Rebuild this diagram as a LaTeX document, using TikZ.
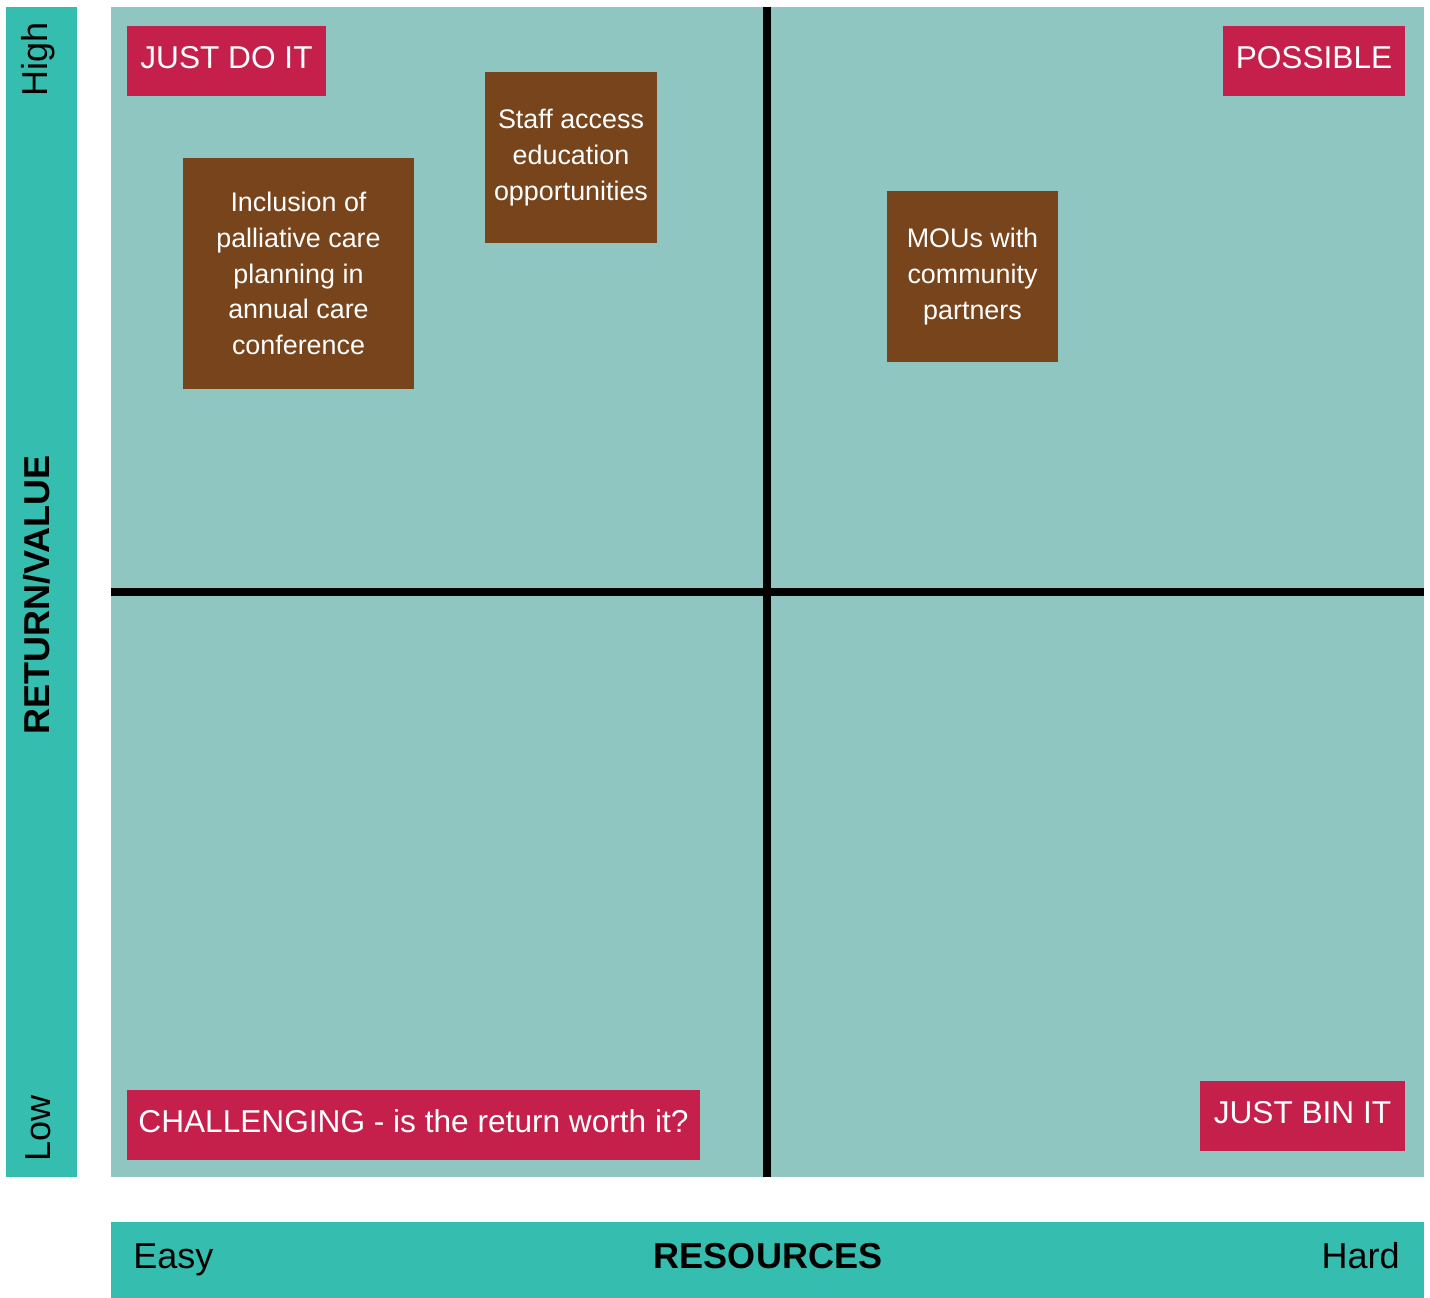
\documentclass[tikz,border=0pt]{standalone}
\usepackage{fontspec}
\setmainfont{Liberation Sans}
\usetikzlibrary{positioning}
\definecolor{barteal}{RGB}{53,190,175}
\definecolor{gridteal}{RGB}{144,198,193}
\definecolor{tagred}{RGB}{197,31,75}
\definecolor{notebrown}{RGB}{120,68,28}

\begin{document}
\begin{tikzpicture}[x=0.02cm,y=-0.02cm,
  tag/.style={fill=tagred,text=white,font=\fontsize{18}{22}\selectfont,inner sep=0pt,
    text height=0.84cm,text depth=0.56cm},
  note/.style={fill=notebrown,text=white,align=center,font=\fontsize{15.3}{20.4}\selectfont,inner sep=0pt},
  axlab/.style={font=\fontsize{20.5}{24}\selectfont,inner sep=0pt},
  divide/.style={line width=4pt}]
\useasboundingbox (0,0) rectangle (1430,1298);
% bars and field
\fill[barteal] (6,7) rectangle (77,1177);
\fill[gridteal] (111,7) rectangle (1424,1177);
\fill[barteal] (111,1222) rectangle (1424,1298);
\coordinate (top) at (767,7); \coordinate (bot) at (767,1177);
\coordinate (lft) at (111,592); \coordinate (rgt) at (1424,592);
\draw[divide] (top)--(bot); \draw[divide] (lft)--(rgt);
% quadrant tags
\node[tag,minimum width=3.98cm] (doit) at (226.5,61) {JUST DO IT};
\node[tag,minimum width=3.64cm] (poss) at (1314,61) {POSSIBLE};
\node[tag,minimum width=11.46cm] (chal) at (413.5,1125) {CHALLENGING - is the return worth it?};
\node[tag,minimum width=4.1cm] (bin) at (1302.5,1116) {JUST BIN IT};
% ideas
\node[note,minimum width=4.62cm,minimum height=4.62cm] (pall) at (298.5,273.5)
  {Inclusion of\\palliative care\\planning in\\annual care\\conference};
\node[note,minimum width=3.44cm,minimum height=3.42cm] (staff) at (571,157.5)
  {Staff access\\education\\opportunities};
\node[note,minimum width=3.42cm,minimum height=3.42cm] (mou) at (972.5,276.5)
  {MOUs with\\community\\partners};
% axis labels
\node[axlab,rotate=90] (high) at (38,59) {High};
\node[axlab,rotate=90,font=\fontsize{20.5}{24}\selectfont\bfseries] (retval) at (37,595) {RETURN/VALUE};
\node[axlab,rotate=90] (low) at (38,1128) {Low};
\node[axlab,anchor=base west] (easy) at (133,1268) {Easy};
\node[axlab,anchor=base,font=\fontsize{20.5}{24}\selectfont\bfseries] (res) at (768,1268) {RESOURCES};
\node[axlab,anchor=base east] (hard) at (1400,1268) {Hard};
\end{tikzpicture}
\end{document}
